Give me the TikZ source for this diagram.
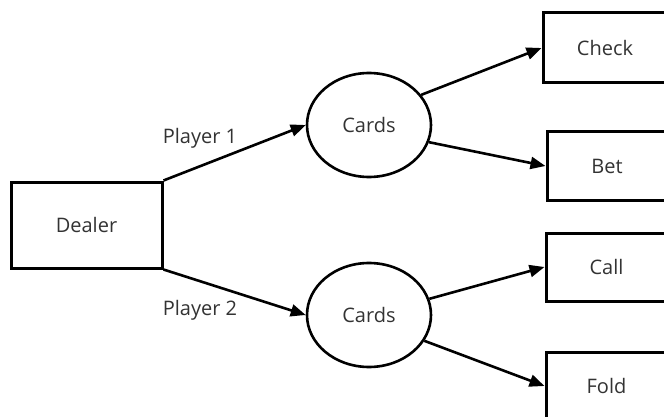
\documentclass[tikz,border=0pt]{standalone}
\usepackage{fontspec}
\setmainfont{Open Sans}
\usetikzlibrary{arrows.meta}
\usetikzlibrary{shapes.geometric}
\tikzset{%
  actbox/.style={rectangle,draw=black,line width=3pt,inner sep=0pt,font=\fontsize{20}{24}\selectfont,text=black!80}
}
\tikzset{%
  cardsel/.style={ellipse,draw=black,line width=2.6pt,inner sep=0pt,minimum width=124pt,minimum height=104pt,font=\fontsize{20}{24}\selectfont,text=black!80}
}
\tikzset{%
  flow/.style={-{Triangle[length=15pt,width=12pt]},line width=2.6pt}
}
\newcommand{\pltext}{\fontsize{20}{24}\selectfont\color{black!80}}

\begin{document}
\begin{tikzpicture}[x=1pt,y=-1pt]
            \clip (0,0) rectangle (664,417);
            \fill[white] (0,0) rectangle (664,417);
            \node[actbox,minimum width=151pt,minimum height=86pt](dealer) at (86.5,225){Dealer};

            \node[cardsel](cardsa) at (369,125){Cards};
            \node[cardsel](cardsb) at (369,315){Cards};

            \node[actbox,minimum width=124pt,minimum height=70pt](check) at (605,48){Check};
            \node[actbox,minimum width=120pt,minimum height=68pt](bet) at (607,166){Bet};
            \node[actbox,minimum width=121pt,minimum height=68pt](call) at (606.5,267){Call};
            \node[actbox,minimum width=121pt,minimum height=68pt](fold) at (606.5,386){Fold};

            \draw[flow] (dealer.north east) -- (cardsa.west);
            \draw[flow] (dealer.south east) -- (cardsb.west);
            \node(pla) at (200,138){\pltext Player 1};
            \node(plb) at (200,310){\pltext Player 2};

            \draw[flow] (cardsa.30) -- (check.west);
            \draw[flow] (cardsa.-16) -- (bet.west);
            \draw[flow] (cardsb.15) -- (call.west);
            \draw[flow] (cardsb.-25) -- (fold.west);
        \end{tikzpicture}
\end{document}
